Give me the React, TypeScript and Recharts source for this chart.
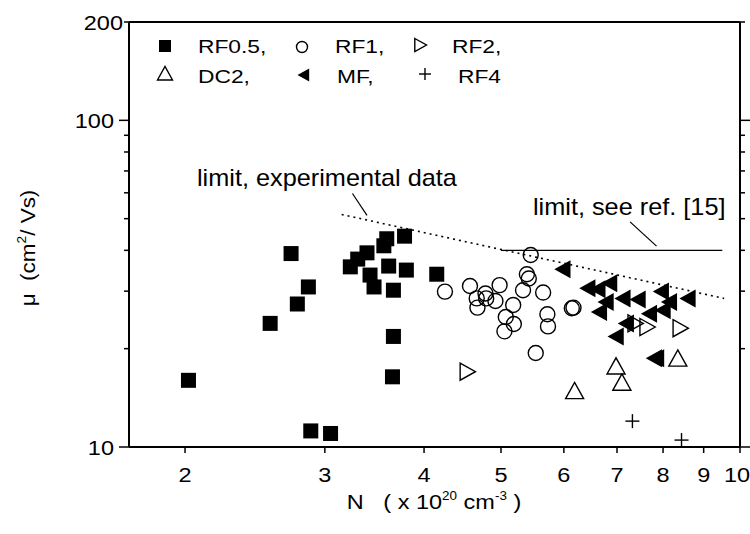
import React from 'react';
import { ScatterChart, Scatter, XAxis, YAxis, ReferenceLine } from 'recharts';

const FONT = '"Liberation Sans", Arial, Helvetica, sans-serif';

// carrier density N (x 1e20 cm^-3) vs Hall mobility (cm^2/Vs)
const RF05: [number, number][] = [
  [2.02, 16.0], [2.56, 23.9], [2.72, 39.1], [2.77, 27.4], [2.86, 30.9], [2.88, 11.2], [3.05, 11.0],
  [3.23, 35.6], [3.3, 37.6], [3.39, 39.3], [3.42, 33.6], [3.46, 30.9], [3.56, 41.3], [3.59, 43.4],
  [3.61, 35.8], [3.66, 30.2], [3.66, 21.8], [3.65, 16.4], [3.78, 44.2], [3.8, 34.8], [4.15, 33.8],
];
const RF1: [number, number][] = [
  [4.25, 29.9], [4.57, 31.1], [4.66, 28.5], [4.67, 26.7], [4.78, 29.5], [4.79, 28.5], [4.92, 28.0],
  [4.98, 31.3], [5.18, 27.2], [5.07, 25.0], [5.19, 23.8], [5.05, 22.6], [5.33, 30.2], [5.39, 33.8],
  [5.42, 32.8], [5.45, 38.7], [5.65, 29.7], [5.72, 25.5], [5.73, 23.4], [5.53, 19.4], [6.14, 26.6],
  [6.17, 26.7],
];
const RF2: [number, number][] = [[4.53, 17.0], [7.37, 23.9], [7.63, 23.3], [8.4, 23.1]];
const DC2: [number, number][] = [[6.19, 14.8], [6.98, 17.6], [7.1, 15.7], [8.35, 18.6]];
const MF: [number, number][] = [
  [5.99, 35.0], [6.44, 30.6], [6.63, 30.4], [6.86, 31.7], [6.79, 27.8], [6.66, 25.9], [7.13, 28.5],
  [7.45, 28.3], [7.97, 29.9], [8.16, 27.8], [8.61, 28.5], [7.7, 25.6], [8.01, 26.2], [7.2, 23.9],
  [6.99, 21.8], [7.81, 18.7], [7.86, 18.7],
];
const RF4: [number, number][] = [[7.32, 12.0], [8.44, 10.5]];

// limit lines
const LIMIT_EXP: [number, number][] = [[3.15, 51.5], [9.55, 28.5]];
const LIMIT_REF: [number, number][] = [[5.0, 40], [9.5, 40]];
const LEADER_EXP: [number, number][] = [[3.25, 59.7], [3.39, 51.2]];
const LEADER_REF: [number, number][] = [[7.27, 48.9], [7.85, 41.2]];

const X_TICKS = [2, 3, 4, 5, 6, 7, 8, 9, 10];
const Y_TICKS = [10, 20, 30, 40, 50, 60, 70, 80, 90, 100, 200];
const Y_LABELS = [10, 100, 200];

const toPts = (arr: [number, number][]) => arr.map(([n, mu]) => ({ n, mu }));
const seg = (arr: [number, number][]) => arr.map(([x, y]) => ({ x, y }));

type Kind = 'square' | 'circle' | 'right' | 'up' | 'left' | 'plus';

function Mark({ kind, cx, cy, s }: { kind: Kind; cx: number; cy: number; s: number }) {
  const h = s / 2;
  switch (kind) {
    case 'square':
      return <rect x={cx - h} y={cy - h} width={s} height={s} fill="#000" />;
    case 'circle':
      return <circle cx={cx} cy={cy} r={h} fill="none" stroke="#000" strokeWidth={1.4} />;
    case 'right':
      return (
        <polygon
          points={`${cx - h * 0.8},${cy - h} ${cx + h},${cy} ${cx - h * 0.8},${cy + h}`}
          fill="none" stroke="#000" strokeWidth={1.4}
        />
      );
    case 'up':
      return (
        <polygon
          points={`${cx - h},${cy + h * 0.8} ${cx},${cy - h} ${cx + h},${cy + h * 0.8}`}
          fill="none" stroke="#000" strokeWidth={1.4}
        />
      );
    case 'left':
      return (
        <polygon points={`${cx + h * 0.8},${cy - h} ${cx - h},${cy} ${cx + h * 0.8},${cy + h}`} fill="#000" />
      );
    default:
      return (
        <g stroke="#000" strokeWidth={1.4}>
          <line x1={cx - h} y1={cy} x2={cx + h} y2={cy} />
          <line x1={cx} y1={cy - h} x2={cx} y2={cy + h} />
        </g>
      );
  }
}

const shape = (kind: Kind, s: number) => (p: any) => <Mark kind={kind} cx={p.cx} cy={p.cy} s={s} />;

function Txt({ x, y, size, sx = 1.12, anchor = 'start', rotate = 0, children }: any) {
  return (
    <text
      transform={`translate(${x},${y}) rotate(${rotate}) scale(${sx},1)`}
      textAnchor={anchor}
      fontFamily={FONT}
      fontSize={size}
      fill="#000"
    >
      {children}
    </text>
  );
}

const BottomTick = ({ x, y, payload }: any) => (
  <g>
    <line x1={x} y1={y} x2={x} y2={y + 6} stroke="#000" strokeWidth={1.5} />
    <Txt x={payload.value === 10 ? x - 3 : x} y={y + 35} size={21} anchor="middle">{payload.value}</Txt>
  </g>
);
const TopTick = ({ x, y }: any) => <line x1={x} y1={y} x2={x} y2={y - 6} stroke="#000" strokeWidth={1.5} />;
const LeftTick = ({ x, y, payload }: any) => {
  const v = payload.value;
  const len = v === 10 || v === 100 ? 10 : 5;
  return (
    <g>
      <line x1={x} y1={y} x2={x - len} y2={y} stroke="#000" strokeWidth={1.5} />
      {Y_LABELS.includes(v) && (
        <Txt x={v === 200 ? x - 6 : x - 15} y={y + 7.5} size={21} anchor="end">{v}</Txt>
      )}
    </g>
  );
};
const RightTick = ({ x, y, payload }: any) => {
  const v = payload.value;
  const len = v === 10 || v === 100 ? 10 : 5;
  return <line x1={x} y1={y} x2={x + len} y2={y} stroke="#000" strokeWidth={1.5} />;
};

const axisLine = { stroke: '#000', strokeWidth: 2 };

export default function App() {
  return (
    <div style={{ position: 'absolute', left: 0, top: 0, width: 750, height: 534, background: '#fff' }}>
      <ScatterChart width={750} height={534} margin={{ top: 0, right: 0, bottom: 0, left: 0 }}>
        <XAxis
          xAxisId="b" dataKey="n" type="number" scale="log" domain={[1.7, 10]} allowDataOverflow
          ticks={X_TICKS} interval={0} tickSize={0} tickMargin={0} tickLine={false}
          tick={<BottomTick />} axisLine={axisLine} height={87}
        />
        <XAxis
          xAxisId="t" orientation="top" type="number" scale="log" domain={[1.7, 10]} allowDataOverflow
          ticks={X_TICKS} interval={0} tickSize={0} tickMargin={0} tickLine={false}
          tick={<TopTick />} axisLine={axisLine} height={22}
        />
        <YAxis
          yAxisId="l" dataKey="mu" type="number" scale="log" domain={[10, 200]} allowDataOverflow
          ticks={Y_TICKS} interval={0} tickSize={0} tickMargin={0} tickLine={false}
          tick={<LeftTick />} axisLine={axisLine} width={129}
        />
        <YAxis
          yAxisId="r" orientation="right" type="number" scale="log" domain={[10, 200]} allowDataOverflow
          ticks={Y_TICKS} interval={0} tickSize={0} tickMargin={0} tickLine={false}
          tick={<RightTick />} axisLine={axisLine} width={10}
        />

        <ReferenceLine xAxisId="b" yAxisId="l" segment={seg(LIMIT_EXP)} stroke="#000" strokeWidth={1.6} strokeDasharray="2 4" />
        <ReferenceLine xAxisId="b" yAxisId="l" segment={seg(LIMIT_REF)} stroke="#000" strokeWidth={1.3} />
        <ReferenceLine xAxisId="b" yAxisId="l" segment={seg(LEADER_EXP)} stroke="#000" strokeWidth={1.2} />
        <ReferenceLine xAxisId="b" yAxisId="l" segment={seg(LEADER_REF)} stroke="#000" strokeWidth={1.2} />

        <Scatter xAxisId="b" yAxisId="l" data={toPts(RF05)} shape={shape('square', 15)} isAnimationActive={false} />
        <Scatter xAxisId="b" yAxisId="l" data={toPts(RF1)} shape={shape('circle', 15)} isAnimationActive={false} />
        <Scatter xAxisId="b" yAxisId="l" data={toPts(RF2)} shape={shape('right', 17)} isAnimationActive={false} />
        <Scatter xAxisId="b" yAxisId="l" data={toPts(DC2)} shape={shape('up', 18)} isAnimationActive={false} />
        <Scatter xAxisId="b" yAxisId="l" data={toPts(MF)} shape={shape('left', 18)} isAnimationActive={false} />
        <Scatter xAxisId="b" yAxisId="l" data={toPts(RF4)} shape={shape('plus', 14)} isAnimationActive={false} />
      </ScatterChart>

      <svg width={750} height={534} style={{ position: 'absolute', left: 0, top: 0, pointerEvents: 'none' }}>
        {/* legend */}
        <Mark kind="square" cx={165} cy={46} s={12} />
        <Txt x={198} y={53} size={19} sx={1.2}>RF0.5,</Txt>
        <Mark kind="circle" cx={302} cy={47} s={11} />
        <Txt x={335} y={53} size={19} sx={1.2}>RF1,</Txt>
        <Mark kind="right" cx={420} cy={45} s={13} />
        <Txt x={452} y={53} size={19} sx={1.2}>RF2,</Txt>
        <Mark kind="up" cx={165} cy={74} s={15} />
        <Txt x={198} y={83} size={19} sx={1.2}>DC2,</Txt>
        <Mark kind="left" cx={304} cy={75} s={13} />
        <Txt x={337} y={83} size={19} sx={1.2}>MF,</Txt>
        <Mark kind="plus" cx={425} cy={74} s={12} />
        <Txt x={458} y={83} size={19} sx={1.2}>RF4</Txt>

        {/* annotations */}
        <Txt x={197} y={186} size={23} sx={1.1}>limit, experimental data</Txt>
        <Txt x={533} y={215} size={23} sx={1.1}>limit, see ref. [15]</Txt>

        {/* axis titles */}
        <Txt x={434} y={509} size={21} anchor="middle">
          {'N\u00a0\u00a0\u00a0( x 10'}
          <tspan fontSize={12} dy={-9}>20</tspan>
          <tspan dy={9}>{'\u00a0cm'}</tspan>
          <tspan fontSize={12} dy={-9}>-3</tspan>
          <tspan dy={9}>{'\u00a0)'}</tspan>
        </Txt>
        <Txt x={35} y={248} size={21} sx={1.07} anchor="middle" rotate={-90}>
          {'μ\u00a0\u00a0(cm'}
          <tspan fontSize={13} dy={-9}>2</tspan>
          <tspan dy={9}>{'/ Vs)'}</tspan>
        </Txt>
      </svg>
    </div>
  );
}
